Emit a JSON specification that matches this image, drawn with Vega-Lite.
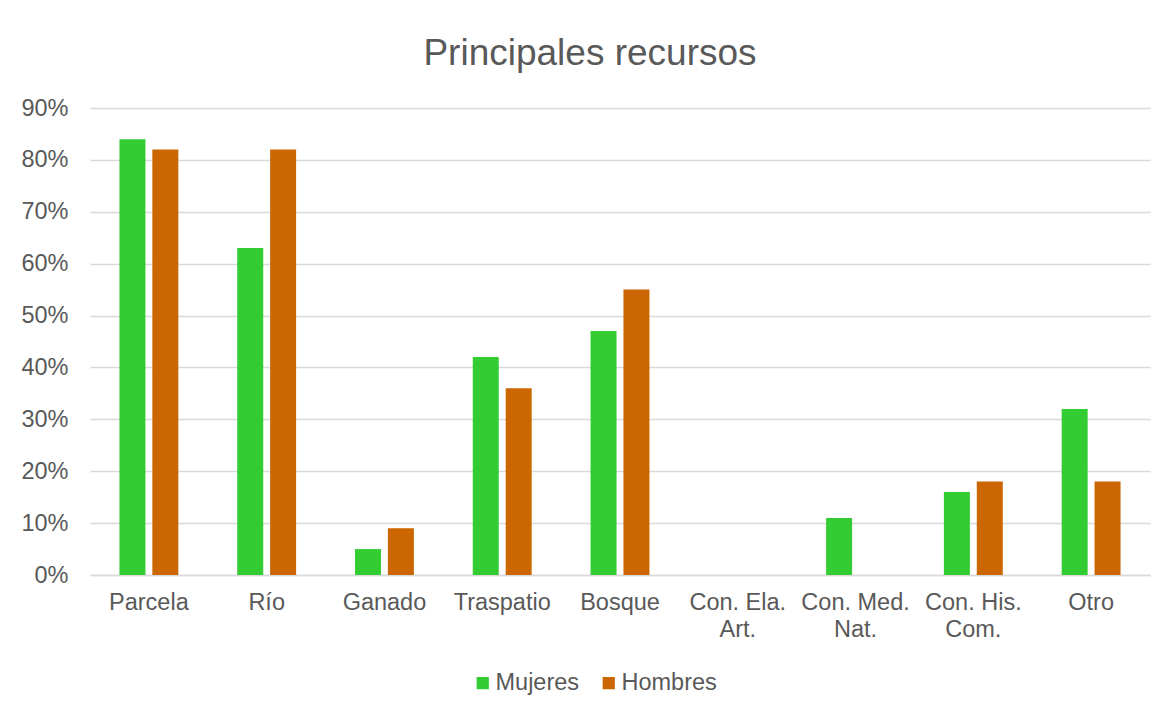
{
  "$schema": "https://vega.github.io/schema/vega-lite/v6.json",
  "width": 1060,
  "height": 467,
  "autosize": {"type": "none"},
  "padding": {"left": 90, "top": 108, "right": 15, "bottom": 138},
  "background": "white",
  "title": {
    "text": "Principales recursos",
    "fontSize": 37,
    "font": "Liberation Sans",
    "fontWeight": "normal",
    "color": "#595959",
    "anchor": "middle",
    "offset": 23,
    "dx": -30
  },
  "data": {
    "values": [
      {"cat": "Parcela", "serie": "Mujeres", "v": 0.84},
      {"cat": "Parcela", "serie": "Hombres", "v": 0.82},
      {"cat": "Río", "serie": "Mujeres", "v": 0.63},
      {"cat": "Río", "serie": "Hombres", "v": 0.82},
      {"cat": "Ganado", "serie": "Mujeres", "v": 0.05},
      {"cat": "Ganado", "serie": "Hombres", "v": 0.09},
      {"cat": "Traspatio", "serie": "Mujeres", "v": 0.42},
      {"cat": "Traspatio", "serie": "Hombres", "v": 0.36},
      {"cat": "Bosque", "serie": "Mujeres", "v": 0.47},
      {"cat": "Bosque", "serie": "Hombres", "v": 0.55},
      {"cat": "Con. Ela.|Art.", "serie": "Mujeres", "v": 0},
      {"cat": "Con. Ela.|Art.", "serie": "Hombres", "v": 0},
      {"cat": "Con. Med.|Nat.", "serie": "Mujeres", "v": 0.11},
      {"cat": "Con. Med.|Nat.", "serie": "Hombres", "v": 0},
      {"cat": "Con. His.|Com.", "serie": "Mujeres", "v": 0.16},
      {"cat": "Con. His.|Com.", "serie": "Hombres", "v": 0.18},
      {"cat": "Otro", "serie": "Mujeres", "v": 0.32},
      {"cat": "Otro", "serie": "Hombres", "v": 0.18}
    ]
  },
  "mark": {"type": "bar"},
  "encoding": {
    "x": {
      "field": "cat",
      "type": "nominal",
      "sort": null,
      "scale": {"paddingInner": 0.5, "paddingOuter": 0.25},
      "axis": {
        "title": null,
        "labelAngle": 0,
        "labelExpr": "split(datum.label, '|')",
        "labelFontSize": 23.5,
        "labelFont": "Liberation Sans",
        "labelColor": "#595959",
        "labelPadding": 15,
        "labelLineHeight": 27,
        "ticks": false,
        "domainColor": "#d9d9d9",
        "domainWidth": 1.5
      }
    },
    "xOffset": {
      "field": "serie",
      "type": "nominal",
      "sort": ["Mujeres", "Hombres"],
      "scale": {"paddingInner": 0.21, "paddingOuter": 0}
    },
    "y": {
      "field": "v",
      "type": "quantitative",
      "scale": {"domain": [0, 0.9], "nice": false},
      "axis": {
        "title": null,
        "format": ".0%",
        "values": [0, 0.1, 0.2, 0.3, 0.4, 0.5, 0.6, 0.7, 0.8, 0.9],
        "labelFontSize": 23.5,
        "labelFont": "Liberation Sans",
        "labelColor": "#595959",
        "labelPadding": 22,
        "ticks": false,
        "domain": false,
        "gridColor": "#d9d9d9",
        "gridWidth": 1.5
      }
    },
    "color": {
      "field": "serie",
      "type": "nominal",
      "sort": ["Mujeres", "Hombres"],
      "scale": {"domain": ["Mujeres", "Hombres"], "range": ["#33cc33", "#cc6600"]},
      "legend": {
        "title": null,
        "orient": "none",
        "legendX": 381,
        "legendY": 563,
        "direction": "horizontal",
        "symbolType": "square",
        "symbolSize": 150,
        "symbolStrokeWidth": 0,
        "labelFontSize": 23.5,
        "labelFont": "Liberation Sans",
        "labelColor": "#595959",
        "labelOffset": 1,
        "columnPadding": 17
      }
    }
  },
  "config": {
    "view": {"stroke": null}
  }
}
